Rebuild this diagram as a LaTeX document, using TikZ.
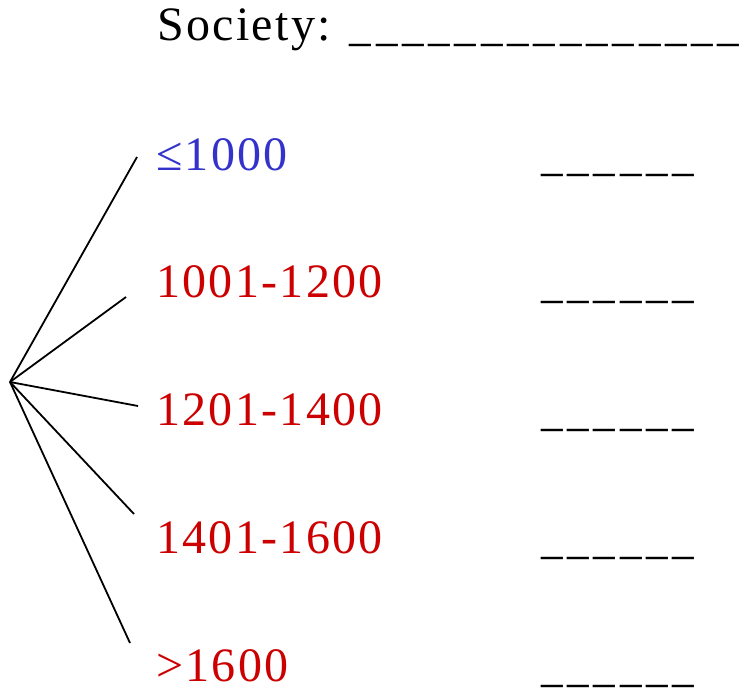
\documentclass[tikz,border=0pt]{standalone}
\usepackage{graphicx}
\usepackage{fontspec}
\setmainfont{Liberation Serif}[LetterSpace=4.8]
\usepackage{tikz}
\usetikzlibrary{positioning}
\definecolor{lowc}{HTML}{3333CC}
\definecolor{highc}{HTML}{CC0000}
\newcommand{\us}{\makebox[26.3bp][l]{\scalebox{0.9}[1]{\_}}}
\newcommand{\shortblank}{\us\us\us\us\us\us}
\newcommand{\longblank}{\shortblank\shortblank\us\us\us}

\begin{document}
\begin{tikzpicture}[x=1bp,y=-1bp,
  lbl/.style={anchor=base west,inner sep=0pt,font=\fontsize{48bp}{58bp}\selectfont},
  branch/.style={black,line width=1.8bp}]
  \useasboundingbox (0,0) rectangle (740,695);
  \node[lbl] (society) at (157,41) {Society: \longblank};
  \coordinate (root) at (10,382);
  % one row per range: label, blank, branch from the root
  \foreach \name/\yb/\txt/\col/\ex/\ey in {le/170/≤1000/lowc/137/157,
      ra/297/1001-1200/highc/126/297, rb/425/1201-1400/highc/138/406,
      rc/553/1401-1600/highc/134/514, gt/681/>1600/highc/130/643} {
    \node[lbl,text=\col] (\name) at (156,\yb) {\txt};
    \node[lbl] (blank\name) at (541,\yb) {\shortblank};
    \coordinate (end\name) at (\ex,\ey);
    \draw[branch] (root) -- (end\name);
  }
\end{tikzpicture}
\end{document}
